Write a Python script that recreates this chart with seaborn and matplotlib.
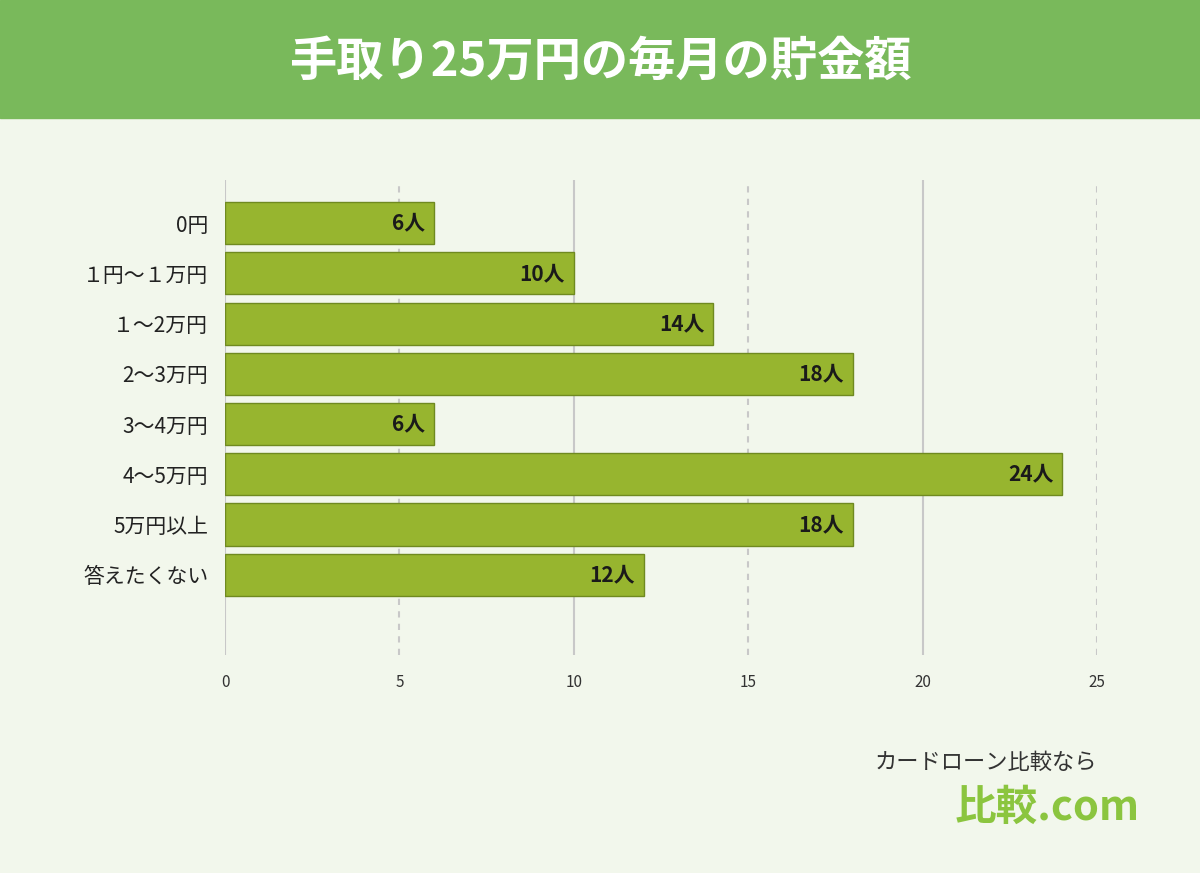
import matplotlib
matplotlib.use("Agg")
import matplotlib.pyplot as plt
import seaborn as sns
import pandas as pd
from matplotlib.patches import Rectangle

categories = ["0円", "１円〜１万円", "１〜2万円", "2〜3万円", "3〜4万円", "4〜5万円", "5万円以上", "答えたくない"]
values = [6, 10, 14, 18, 6, 24, 18, 12]
ticks = [0, 5, 10, 15, 20, 25]
title = "手取り25万円の毎月の貯金額"

plt.rcParams["font.family"] = "Noto Sans CJK JP"
bg = "#f2f7ec"
fig = plt.figure(figsize=(12, 8.73), dpi=100, facecolor=bg)
fig.patches.append(Rectangle((0, 1 - 118/873), 1, 118/873, transform=fig.transFigure, color="#79b95b", zorder=0))
fig.text(0.5, 1 - 62/873, title, ha="center", va="center", fontsize=34, fontweight="bold", color="white")

ax = fig.add_axes([225/1200, 1 - 655/873, (1097-225)/1200, 475/873])
ax.set_facecolor(bg)
for t in ticks:
    ax.axvline(t, color="#c8c8c8", lw=1.5, ls="-" if t % 10 == 0 else (0, (3, 3)), zorder=0)
df = pd.DataFrame({"cat": categories, "val": values})
sns.barplot(data=df, x="val", y="cat", ax=ax, color="#97b52f", edgecolor="#6f8a20", linewidth=1, width=0.84, saturation=1, zorder=2)
for i, v in enumerate(values):
    ax.text(v - 0.25, i, f"{v}人", ha="right", va="center", fontsize=15, fontweight="bold", color="#1a1a1a", zorder=3)
ax.set_xlim(0, 25)
ax.set_ylim(7 + 1.6, -0.86)
ax.set_xticks(ticks)
ax.tick_params(axis="x", length=0, pad=14, labelsize=11, colors="#333333")
ax.tick_params(axis="y", length=0, pad=12, labelsize=15, colors="#222222")
ax.set_xlabel(""); ax.set_ylabel("")
for s in ax.spines.values():
    s.set_visible(False)

fig.text(875/1200, 1 - 762/873, "カードローン比較なら", fontsize=16, color="#333333", va="center")
fig.text(955/1200, 1 - 808/873, "比較.com", fontsize=30, fontweight="bold", color="#8bc53f", va="center")
fig.savefig("out.png", dpi=100, facecolor=bg)
